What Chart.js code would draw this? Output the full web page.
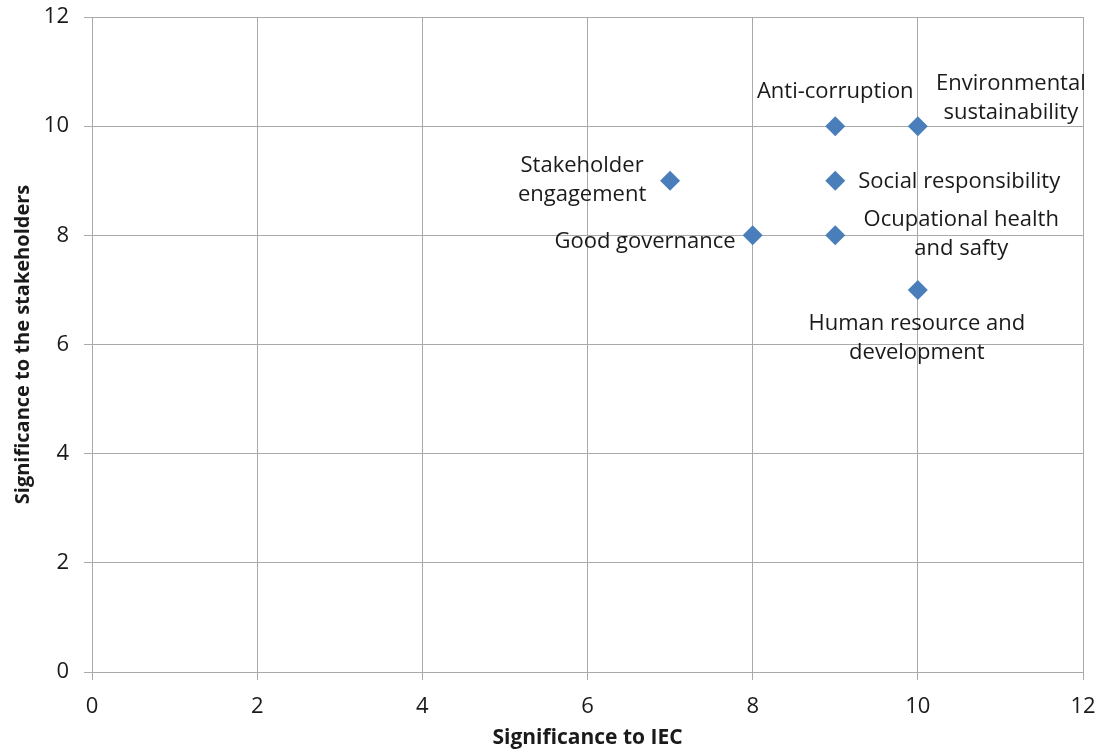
<!DOCTYPE html>
<html>
<head>
<meta charset="utf-8">
<script src="https://cdn.jsdelivr.net/npm/chart.js@4.4.1/dist/chart.umd.min.js"></script>
<style>
  html, body { margin: 0; padding: 0; background: #ffffff; }
  #wrap { width: 1100px; height: 753px; position: relative; }
</style>
</head>
<body>
<div id="wrap"><canvas id="chart" width="1100" height="753"></canvas></div>
<script>
// Material topics: significance to IEC (x) vs. significance to stakeholders (y)
const topics = [
  ['Anti-corruption'],
  ['Environmental', 'sustainability'],
  ['Stakeholder', 'engagement'],
  ['Social responsibility'],
  ['Good governance'],
  ['Ocupational health', 'and safty'],
  ['Human resource and', 'development']
];
const significanceIEC = [9, 10, 7, 9, 8, 9, 10];
const significanceStakeholders = [10, 10, 9, 9, 8, 8, 7];
const xTicks = [0, 2, 4, 6, 8, 10, 12];
const yTicks = [0, 2, 4, 6, 8, 10, 12];

// Where each topic's caption sits relative to its marker (pixels)
const captionPlacement = [
  { dx: 0,   dy: -34, align: 'center' },
  { dx: 93,  dy: -28, align: 'center' },
  { dx: -88, dy: -1,  align: 'center' },
  { dx: 23,  dy: 1,   align: 'left' },
  { dx: -17, dy: 6,   align: 'right' },
  { dx: 126, dy: -1,  align: 'center' },
  { dx: -1,  dy: 48,  align: 'center' }
];

const FONT = "'Open Sans', sans-serif";
const GRID = '#aaaaaa';
const TEXT = '#1a1a1a';

const points = significanceIEC.map((x, i) => ({ x, y: significanceStakeholders[i] }));

const captionPlugin = {
  id: 'topicCaptions',
  afterDatasetsDraw(chart) {
    const ctx = chart.ctx;
    const xs = chart.scales.x, ys = chart.scales.y;
    const lineH = 29;
    ctx.save();
    ctx.font = '22px ' + FONT;
    ctx.fillStyle = TEXT;
    ctx.textBaseline = 'middle';
    points.forEach((p, i) => {
      const pl = captionPlacement[i];
      const lines = topics[i];
      const cx = xs.getPixelForValue(p.x) + pl.dx;
      const cy = ys.getPixelForValue(p.y) + pl.dy;
      ctx.textAlign = pl.align;
      const top = cy - (lines.length - 1) * lineH / 2;
      lines.forEach((t, k) => ctx.fillText(t, cx, top + k * lineH));
    });
    ctx.restore();
  }
};

new Chart(document.getElementById('chart'), {
  type: 'scatter',
  data: {
    datasets: [{
      label: 'Topics',
      data: points,
      pointStyle: 'rectRot',
      pointRadius: 10,
      pointHoverRadius: 10,
      backgroundColor: '#4a7ebb',
      borderColor: '#4a7ebb',
      borderWidth: 0
    }]
  },
  options: {
    responsive: false,
    animation: false,
    devicePixelRatio: 1,
    layout: { padding: { top: 17, right: 17, left: 0, bottom: 0 } },
    plugins: {
      legend: { display: false },
      tooltip: { enabled: false }
    },
    scales: {
      x: {
        type: 'linear',
        min: 0, max: 12,
        afterBuildTicks(scale) { scale.ticks = xTicks.map(v => ({ value: v })); },
        afterFit(scale) {
          scale.height = 81;
          scale.paddingLeft = 0;
          scale.paddingRight = 0;
        },
        grid: { color: GRID, lineWidth: 1, tickLength: 8, drawTicks: true },
        border: { color: GRID, width: 1 },
        ticks: { color: TEXT, font: { family: FONT, size: 22 }, padding: 14, maxRotation: 0 },
        title: {
          display: true,
          text: 'Significance to IEC',
          color: TEXT,
          font: { family: FONT, size: 21, weight: 'bold' },
          padding: { top: 0, bottom: 2 }
        }
      },
      y: {
        type: 'linear',
        min: 0, max: 12,
        afterBuildTicks(scale) { scale.ticks = yTicks.map(v => ({ value: v })); },
        afterFit(scale) {
          scale.width = 92;
          scale.paddingTop = 0;
          scale.paddingBottom = 0;
        },
        grid: { color: GRID, lineWidth: 1, tickLength: 8, drawTicks: true },
        border: { color: GRID, width: 1 },
        ticks: { color: TEXT, font: { family: FONT, size: 22 }, padding: 15 },
        title: {
          display: true,
          text: 'Significance to the stakeholders',
          color: TEXT,
          font: { family: FONT, size: 20, weight: 'bold' },
          padding: { top: 11, bottom: 0 }
        }
      }
    }
  },
  plugins: [captionPlugin]
});
</script>
</body>
</html>
